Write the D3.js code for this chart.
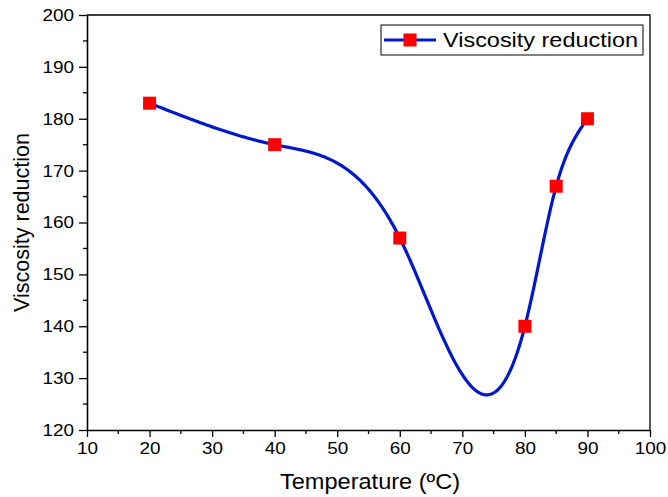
<!DOCTYPE html>
<html>
<head>
<meta charset="utf-8">
<script src="https://cdn.jsdelivr.net/npm/d3@7"></script>
<style>
  body { margin: 0; background: #fff; }
  text { font-family: "Liberation Sans", Arial, sans-serif; fill: #000; }
</style>
</head>
<body>
<div id="vis"></div>
<script>
// data
var temperature = [20, 40, 60, 80, 85, 90];
var viscosityReduction = [183, 175, 157, 140, 167, 180];
var seriesName = "Viscosity reduction";
var xTicks = [10, 20, 30, 40, 50, 60, 70, 80, 90, 100];
var yTicks = [120, 130, 140, 150, 160, 170, 180, 190, 200];

var width = 668, height = 497;
var margin = { top: 15, left: 87, bottom: 67, right: 18 };

var svg = d3.select('#vis').append('svg')
  .attr('width', width)
  .attr('height', height);

var x = d3.scaleLinear().domain([10, 100]).range([margin.left, width - margin.right]);
var y = d3.scaleLinear().domain([120, 200]).range([height - margin.bottom, margin.top]);

// natural cubic spline of y over x (like Origin's spline connector)
function naturalSpline(xs, ys) {
  var n = xs.length, h = [], al = [], l = [1], mu = [0], z = [0], c = [], b = [], d = [];
  for (var i = 0; i < n - 1; i++) h[i] = xs[i + 1] - xs[i];
  for (i = 1; i < n - 1; i++)
    al[i] = 3 / h[i] * (ys[i + 1] - ys[i]) - 3 / h[i - 1] * (ys[i] - ys[i - 1]);
  for (i = 1; i < n - 1; i++) {
    l[i] = 2 * (xs[i + 1] - xs[i - 1]) - h[i - 1] * mu[i - 1];
    mu[i] = h[i] / l[i];
    z[i] = (al[i] - h[i - 1] * z[i - 1]) / l[i];
  }
  c[n - 1] = 0;
  for (var j = n - 2; j >= 0; j--) {
    c[j] = (j === 0 ? 0 : z[j]) - mu[j] * c[j + 1];
    b[j] = (ys[j + 1] - ys[j]) / h[j] - h[j] * (c[j + 1] + 2 * c[j]) / 3;
    d[j] = (c[j + 1] - c[j]) / (3 * h[j]);
  }
  return function (t) {
    var k = 0;
    while (k < n - 2 && t > xs[k + 1]) k++;
    var dx = t - xs[k];
    return ys[k] + b[k] * dx + c[k] * dx * dx + d[k] * dx * dx * dx;
  };
}

var spline = naturalSpline(temperature, viscosityReduction);
var curvePts = [];
var x0 = temperature[0], x1 = temperature[temperature.length - 1];
for (var k = 0; k <= 280; k++) {
  var t = x0 + (x1 - x0) * k / 280;
  curvePts.push([t, spline(t)]);
}

// frame (top and right lines)
svg.append('path')
  .attr('d', 'M' + x(10) + ',' + y(200) + 'H' + x(100) + 'V' + y(120))
  .attr('fill', 'none').attr('stroke', '#000').attr('stroke-width', 1.3);

// axes with major ticks
var xAxis = svg.append('g')
  .attr('transform', 'translate(0,' + y(120) + ')')
  .call(d3.axisBottom(x).tickValues(xTicks).tickSize(7).tickPadding(5).tickSizeOuter(0));
var yAxis = svg.append('g')
  .attr('transform', 'translate(' + x(10) + ',0)')
  .call(d3.axisLeft(y).tickValues(yTicks).tickSize(8).tickPadding(5).tickSizeOuter(0));

// minor ticks
svg.append('g').selectAll('line')
  .data(d3.range(15, 100, 10))
  .enter().append('line')
  .attr('x1', function (d) { return x(d); }).attr('x2', function (d) { return x(d); })
  .attr('y1', y(120)).attr('y2', y(120) + 4)
  .attr('stroke', '#000').attr('stroke-width', 1.3);
svg.append('g').selectAll('line')
  .data(d3.range(125, 200, 10))
  .enter().append('line')
  .attr('y1', function (d) { return y(d); }).attr('y2', function (d) { return y(d); })
  .attr('x1', x(10)).attr('x2', x(10) - 4)
  .attr('stroke', '#000').attr('stroke-width', 1.3);

[xAxis, yAxis].forEach(function (a) {
  a.select('.domain').attr('stroke-width', 1.6);
  a.selectAll('.tick line').attr('stroke-width', 1.3);
  a.selectAll('.tick text')
    .style('font-family', '"Liberation Sans", Arial, sans-serif')
    .style('font-size', '17px').attr('fill', '#000')
    .attr('textLength', function (d) { return String(d).length * 10.5; })
    .attr('lengthAdjust', 'spacingAndGlyphs');
});

// axis titles (reference glyphs are a bit wide, so fit lengths)
svg.append('text')
  .attr('x', 280).attr('y', 489)
  .attr('textLength', 180).attr('lengthAdjust', 'spacingAndGlyphs')
  .style('font-size', '22px')
  .text('Temperature (ºC)');
svg.append('text')
  .attr('transform', 'translate(29,' + 222 + ') rotate(-90)')
  .attr('x', -90)
  .attr('textLength', 179).attr('lengthAdjust', 'spacingAndGlyphs')
  .style('font-size', '22px')
  .text(seriesName);

// curve
var line = d3.line()
  .x(function (d) { return x(d[0]); })
  .y(function (d) { return y(d[1]); });
svg.append('path')
  .datum(curvePts)
  .attr('d', line)
  .attr('fill', 'none')
  .attr('stroke', '#0018c8')
  .attr('stroke-width', 3.2);

// markers
var ms = 13;
svg.append('g').selectAll('rect')
  .data(temperature)
  .enter().append('rect')
  .attr('x', function (d) { return x(d) - ms / 2; })
  .attr('y', function (d, i) { return y(viscosityReduction[i]) - ms / 2; })
  .attr('width', ms).attr('height', ms)
  .attr('fill', '#ff0000');

// legend
var lg = svg.append('g');
lg.append('rect')
  .attr('x', 381).attr('y', 25).attr('width', 262).attr('height', 30)
  .attr('fill', '#fff').attr('stroke', '#000').attr('stroke-width', 1);
lg.append('line')
  .attr('x1', 384).attr('x2', 436).attr('y1', 40).attr('y2', 40)
  .attr('stroke', '#0018c8').attr('stroke-width', 3.2);
lg.append('rect')
  .attr('x', 410 - ms / 2).attr('y', 40 - ms / 2).attr('width', ms).attr('height', ms)
  .attr('fill', '#ff0000');
lg.append('text')
  .attr('x', 443).attr('y', 47)
  .attr('textLength', 195).attr('lengthAdjust', 'spacingAndGlyphs')
  .style('font-size', '20px')
  .text(seriesName);
</script>
</body>
</html>
